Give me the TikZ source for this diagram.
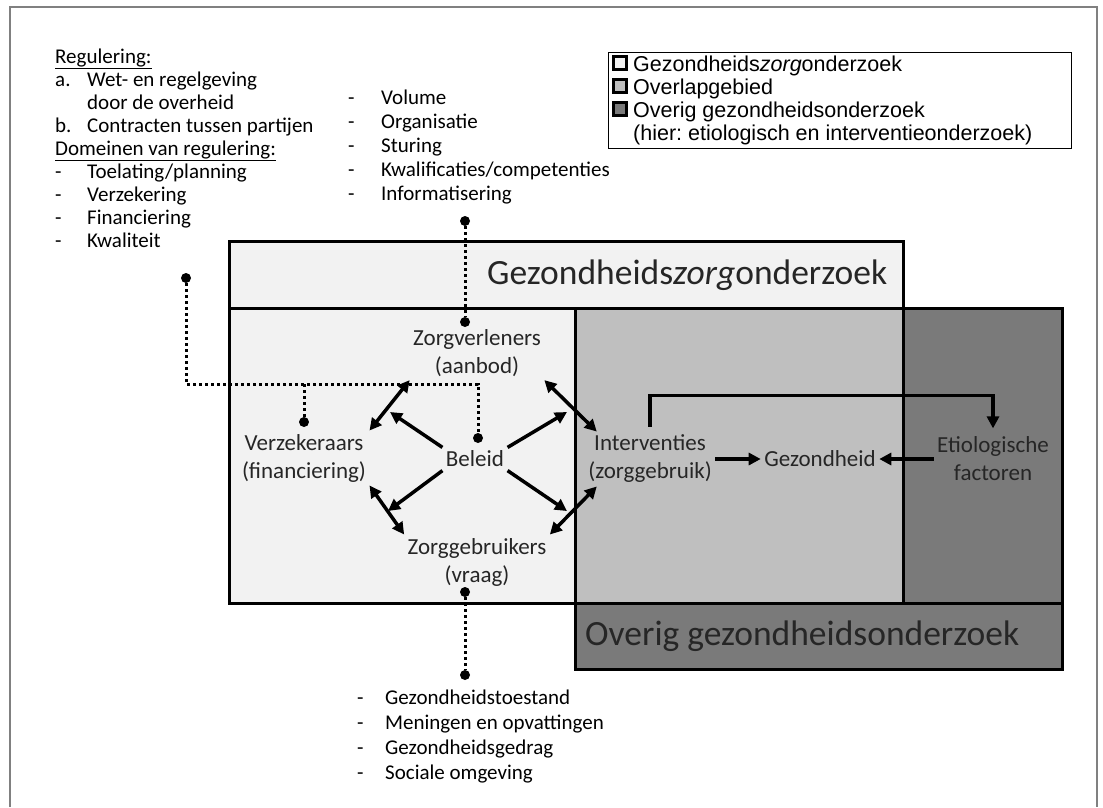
\documentclass[tikz,border=0pt]{standalone}
\usepackage{fontspec}
\setmainfont{Carlito}
\newfontfamily\legendfont{Liberation Sans}
\usetikzlibrary{arrows.meta}

\definecolor{lichtgrijs}{HTML}{F2F2F2}
\definecolor{middengrijs}{HTML}{BFBFBF}
\definecolor{donkergrijs}{HTML}{7A7A7A}
\definecolor{tekstgrijs}{HTML}{262626}

\begin{document}
\begin{tikzpicture}[x=1pt, y=-1pt,
	vak/.style = {draw, line width=3pt},
	tekst/.style = {text=tekstgrijs, align=center, font=\fontsize{23}{28}\selectfont},
	band/.style = {anchor=west, inner sep=0pt, text=tekstgrijs, font=\fontsize{35.5}{40}\selectfont},
	lijst/.style = {anchor=base west, inner sep=0pt, font=\fontsize{21}{#1}\selectfont},
	legenda/.style = {anchor=base west, inner sep=0pt, font=\legendfont\fontsize{21.5}{23}\selectfont},
	hokje/.style = {draw, line width=2.5pt, minimum size=13pt, inner sep=0pt},
	pijl/.style = {line width=3.5pt, -{Triangle[length=12pt,width=12pt]}},
	dubbel/.style = {line width=3.5pt, {Triangle[length=12pt,width=12pt]}-{Triangle[length=12pt,width=12pt]}},
	stip/.style = {circle, fill, inner sep=0pt, minimum size=10pt},
	stippel/.style = {line width=3pt, dash pattern=on 3pt off 3pt}]
	\useasboundingbox (0,0) rectangle (1103,807);
	\draw[gray, line width=1.5pt] (10,807) -- (10,7) -- (1097,7) -- (1097,807);

	% vlakken
	\fill[lichtgrijs] (229,241) rectangle (903,603);
	\fill[donkergrijs] (575,308) rectangle (1062,669);
	\fill[middengrijs] (575,308) rectangle (903,603);
	\draw[vak] (229,241) rectangle (903,603);
	\draw[vak] (575,308) rectangle (1062,669);
	\draw[vak] (229,308) -- (903,308);
	\draw[vak] (575,603) -- (1062,603);
	\node[band] (gzo) at (487,275) {Gezondheids\textit{zorg}onderzoek};
	\node[band] (ogo) at (585,636) {Overig gezondheidsonderzoek};

	% legenda
	\draw[line width=1pt] (608,52) rectangle (1071,148);
	\node[hokje, fill=lichtgrijs] (h1) at (620,63) {};
	\node[hokje, fill=middengrijs] (h2) at (620,86) {};
	\node[hokje, fill=donkergrijs] (h3) at (620,109) {};
	\node[legenda] (l1) at (633,71) {Gezondheids\textit{zorg}onderzoek};
	\node[legenda] (l2) at (633,94) {Overlapgebied};
	\node[legenda] (l3) at (633,117) {Overig gezondheidsonderzoek};
	\node[legenda] (l4) at (633,140) {(hier:\ etiologisch en interventieonderzoek)};

	% lijsten
	\node[lijst=23] (regulering) at (55,63) {\begin{tabular}[t]{@{}p{32pt}@{}l@{}}
		\multicolumn{2}{@{}l@{}}{\underline{Regulering:}}\\
		a. & Wet- en regelgeving\\
		   & door de overheid\\
		b. & Contracten tussen partijen\\
		\multicolumn{2}{@{}l@{}}{\underline{Domeinen van regulering:}}\\
		- & Toelating/planning\\
		- & Verzekering\\
		- & Financiering\\
		- & Kwaliteit
	\end{tabular}};
	\node[lijst=24] (aanbodlijst) at (348,104) {\begin{tabular}[t]{@{}p{33pt}@{}l@{}}
		- & Volume\\
		- & Organisatie\\
		- & Sturing\\
		- & Kwalificaties/competenties\\
		- & Informatisering
	\end{tabular}};
	\node[lijst=25] (vraaglijst) at (357,704) {\begin{tabular}[t]{@{}p{28pt}@{}l@{}}
		- & Gezondheidstoestand\\
		- & Meningen en opvattingen\\
		- & Gezondheidsgedrag\\
		- & Sociale omgeving
	\end{tabular}};

	% knopen
	\node[tekst] (verleners) at (477,353) {Zorgverleners\\(aanbod)};
	\node[tekst] (verzekeraars) at (304,458) {Verzekeraars\\(financiering)};
	\node[tekst] (beleid) at (475,459) {Beleid};
	\node[tekst] (gebruikers) at (477,562) {Zorggebruikers\\(vraag)};
	\node[tekst] (interventies) at (650,459) {Interventies\\(zorggebruik)};
	\node[tekst] (gezondheid) at (820,459) {Gezondheid};
	\node[tekst] (etiologie) at (993,459) {Etiologische\\factoren};

	% stippellijnen
	\node[stip] (s1) at (465,221) {};
	\node[stip] (s2) at (465,322) {};
	\node[stip] (s3) at (186,278) {};
	\node[stip] (s4) at (304,422) {};
	\node[stip] (s5) at (478,438) {};
	\node[stip] (s6) at (465,592) {};
	\node[stip] (s7) at (465,675) {};
	\coordinate (knik) at (478,384);
	\draw[stippel] (s1) -- (s2);
	\draw[stippel] (s3) |- (knik) -- (s5);
	\draw[stippel] (s4) -- (s4 |- knik);
	\draw[stippel] (s6) -- (s7);

	% pijlen
	\coordinate (p1) at (390,412);
	\coordinate (p2) at (567,412);
	\coordinate (p3) at (388,511);
	\coordinate (p4) at (567,511);
	\draw[pijl] (beleid.north west) -- (p1);
	\draw[pijl] (beleid.north east) -- (p2);
	\draw[pijl] (beleid.south west) -- (p3);
	\draw[pijl] (beleid.south east) -- (p4);
	\draw[dubbel] (verzekeraars.north east) -- (verleners.south west);
	\draw[dubbel] (verleners.south east) -- ([xshift=12pt]interventies.north west);
	\draw[dubbel] (verzekeraars.south east) -- (gebruikers.north west);
	\draw[dubbel] (gebruikers.north east) -- ([xshift=12pt]interventies.south west);
	\draw[pijl] (interventies) -- (gezondheid);
	\draw[pijl] (etiologie) -- (gezondheid);
	\draw[pijl] ([yshift=5pt]interventies.north) -- ++(0,-31) -| ([yshift=5pt]etiologie.north);
\end{tikzpicture}
\end{document}
